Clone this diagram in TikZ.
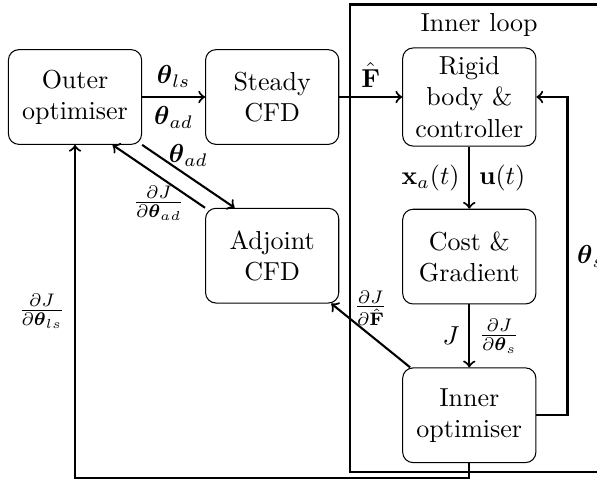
\documentclass[tikz,border=0pt]{standalone}
\usepackage{amsmath}
\usepackage{amssymb}
\usetikzlibrary{calc, positioning}

\begin{document}
\begin{tikzpicture}[node distance=0.85cm,
        block/.style={draw, rounded corners=4pt, align=center, minimum width=1.8cm, minimum height=1.28cm},
        link/.style={->, thick}]
        \useasboundingbox (-1.014,1.311) rectangle (7.054,-5.203);

        \node[block] (outer) at (0,0) {Outer\\optimiser};
        \node[block] (steady) [right=of outer] {Steady\\CFD};
        \node[block] (rigid) [right=of steady] {Rigid\\body \&\\controller};
        \node[block] (adjoint) [below=of steady] {Adjoint\\CFD};
        \node[block] (cost) [below=0.84cm of rigid] {Cost \&\\Gradient};
        \node[block] (inneropt) [below=of cost] {Inner\\optimiser};

        % inner loop frame
        \coordinate (loopnw) at ($(steady.east |- rigid.north)+(0.15,0.58)$);
        \coordinate (loopse) at ($(inneropt.south)+(2.4,-0.12)$);
        \draw[thick] (loopnw) rectangle (loopse);
        \node[below] (looplabel) at ($(loopnw)+(1.74,0)$) {Inner loop};

        \draw[link] (outer) -- (steady) node[midway, above] {$\boldsymbol{\theta}_{ls}$} node[midway, below] {$\boldsymbol{\theta}_{ad}$};
        \draw[link] (steady) -- (rigid) node[midway, above] {$\hat{\mathbf{F}}$};
        \draw[link] (outer.south east) -- ([xshift=0.4cm]adjoint.north west) node[midway, above] {$\boldsymbol{\theta}_{ad}$};
        \draw[link] (adjoint.north west) -- ([xshift=-0.4cm]outer.south east) node[midway, below] {$\frac{\partial J}{\partial \boldsymbol{\theta}_{ad}}$};
        \draw[link] (rigid) -- (cost) node[midway, left] {$\mathbf{x}_a(t)$} node[midway, right] {$\mathbf{u}(t)$};
        \draw[link] (cost) -- (inneropt) node[midway, left] {$J$} node[midway, right] {$\frac{\partial J}{\partial \boldsymbol{\theta}_s}$};
        \draw[link] (inneropt) -- (adjoint) node[midway, above] {$\frac{\partial J}{\partial \hat{\mathbf{F}}}$};
        \draw[link] (inneropt.east) -- ++(0.42,0) |- (rigid.east) node[pos=0.25, right] {$\boldsymbol{\theta}_s$};
        \draw[link] (inneropt.south) -- ++(0,-0.2) -| (outer.south) node[pos=0.75, left] {$\frac{\partial J}{\partial \boldsymbol{\theta}_{ls}}$};
    \end{tikzpicture}
\end{document}
